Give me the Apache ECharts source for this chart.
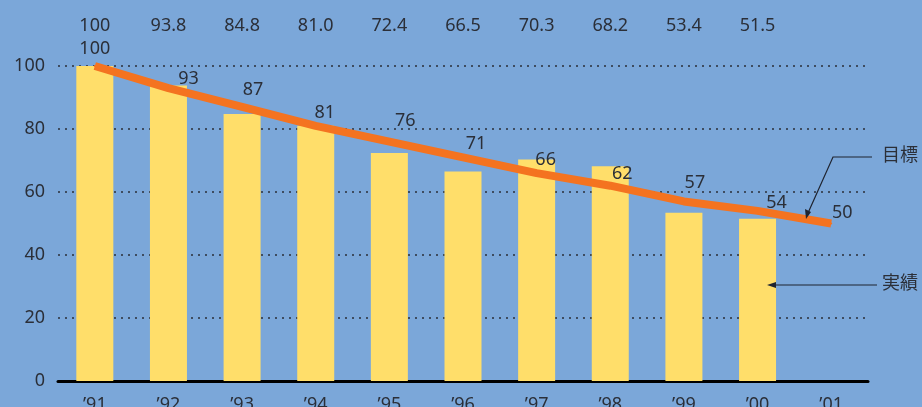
<!DOCTYPE html>
<html>
<head>
<meta charset="utf-8">
<script src="https://cdn.jsdelivr.net/npm/echarts@6/dist/echarts.min.js"></script>
<style>
  html, body { margin: 0; padding: 0; background: #7BA7D9; overflow: hidden; }
  #chart { width: 922px; height: 407px; }
</style>
</head>
<body>
<div id="chart"></div>
<script>
// Fiscal years
const years = ["’91", "’92", "’93", "’94", "’95", "’96", "’97", "’98", "’99", "’00", "’01"];
// Actual results (実績)
const actual = [100, 93.8, 84.8, 81.0, 72.4, 66.5, 70.3, 68.2, 53.4, 51.5];
// Target path (目標)
const target = [100, 93, 87, 81, 76, 71, 66, 62, 57, 54, 50];
// Y axis ticks
const yTicks = [0, 20, 40, 60, 80, 100];

// Styling
const FONT = '"Noto Sans", "Noto Sans CJK JP", sans-serif';
const TEXT = '#2b2f38';
const LINE_COLOR = '#F47320';
const LABEL_FS = 18;
const LABEL_HALF_H = 12;
// How far each target label's centre sits from its point: [right, up] in px
const targetLabelShift = [
  [0, 19], [20, 11], [11, 19], [9, 15], [16, 23], [13, 15],
  [9, 15], [12, 14], [11, 21], [19, 10], [11, 13]
];

const chart = echarts.init(document.getElementById('chart'), null, { renderer: 'canvas' });

const targetData = target.map((v, i) => ({
  value: v,
  label: {
    offset: [targetLabelShift[i][0], LABEL_HALF_H - targetLabelShift[i][1]]
  }
}));

chart.setOption({
  backgroundColor: '#7BA7D9',
  animation: false,
  textStyle: { fontFamily: FONT },
  grid: { left: 58, right: 54, top: 66, bottom: 26, containLabel: false, outerBoundsMode: 'none' },
  xAxis: [
    {
      type: 'category',
      data: years,
      position: 'bottom',
      boundaryGap: true,
      axisLine: { show: true, lineStyle: { color: '#000', width: 3 } },
      axisTick: { show: false },
      axisLabel: { color: TEXT, fontSize: LABEL_FS, margin: 15, fontFamily: FONT }
    },
    {
      type: 'category',
      data: years,
      position: 'top',
      boundaryGap: true,
      axisLine: { show: false },
      axisTick: { show: false },
      axisLabel: {
        color: TEXT, fontSize: LABEL_FS, margin: 31, fontFamily: FONT,
        formatter: (v, i) => (i < actual.length ? actual[i].toFixed(actual[i] === 100 ? 0 : 1) : '')
      }
    }
  ],
  yAxis: {
    type: 'value',
    min: yTicks[0],
    max: yTicks[yTicks.length - 1],
    interval: 20,
    axisLine: { show: false },
    axisTick: { show: false },
    axisLabel: { color: TEXT, fontSize: LABEL_FS, margin: 13, fontFamily: FONT },
    splitLine: { show: true, lineStyle: { color: '#2b2f38', width: 1.5, type: [2, 5] } }
  },
  series: [
    {
      name: '実績',
      type: 'bar',
      data: actual,
      barWidth: 37,
      itemStyle: { color: '#FFDE6A' },
      z: 2
    },
    {
      name: '目標',
      type: 'line',
      data: targetData,
      symbol: 'circle',
      symbolSize: 2,
      showSymbol: true,
      itemStyle: { color: LINE_COLOR },
      lineStyle: { color: LINE_COLOR, width: 8 },
      label: {
        show: true, position: 'top', distance: 0,
        color: TEXT, fontSize: LABEL_FS, fontFamily: FONT
      },
      z: 3
    }
  ],
  graphic: [
    {
      type: 'group', z: 100,
      children: [
        {
          type: 'polyline', z: 100,
          shape: { points: [[872, 157], [833, 157], [808, 213]] },
          style: { stroke: '#1f2430', lineWidth: 1.2, fill: null }
        },
        {
          type: 'polygon', z: 100,
          shape: { points: [[806, 219], [805, 209], [811, 212]] },
          style: { fill: '#1f2430' }
        },
        {
          type: 'text', z: 100, x: 882, y: 145,
          style: { text: '目標', fill: TEXT, fontSize: 18, fontFamily: '"Noto Sans CJK JP", sans-serif' }
        },
        {
          type: 'line', z: 100,
          shape: { x1: 877, y1: 285, x2: 773, y2: 285 },
          style: { stroke: '#1f2430', lineWidth: 1.2 }
        },
        {
          type: 'polygon', z: 100,
          shape: { points: [[767, 285], [776, 282], [776, 288]] },
          style: { fill: '#1f2430' }
        },
        {
          type: 'text', z: 100, x: 882, y: 273,
          style: { text: '実績', fill: TEXT, fontSize: 18, fontFamily: '"Noto Sans CJK JP", sans-serif' }
        }
      ]
    }
  ]
});
</script>
</body>
</html>
